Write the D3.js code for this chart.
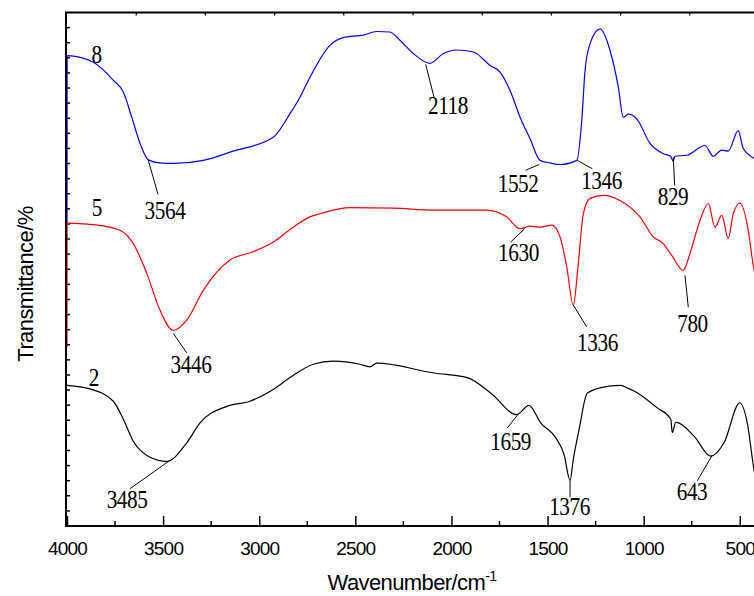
<!DOCTYPE html>
<html>
<head>
<meta charset="utf-8">
<script src="https://cdn.jsdelivr.net/npm/d3@7"></script>
<style>
  body { margin: 0; background: #fff; }
</style>
</head>
<body>
<div id="chart"></div>
<script>
// spectra: [wavenumber cm-1, transmittance (relative, 0-100)]
const sample8 = [
  [4000, 59.0], [3999, 91.6], [3863, 90.3], [3759, 86.8], [3707, 84.5], [3663, 79.6],
  [3620, 74.5], [3577, 71.3], [3516, 70.7], [3447, 70.6], [3291, 71.2], [3135, 73.0],
  [2927, 75.7], [2840, 80.3], [2788, 83.5], [2736, 87.4], [2632, 93.6], [2563, 95.1],
  [2459, 95.6], [2389, 96.3], [2320, 96.2], [2268, 94.6], [2198, 92.0], [2112, 90.1],
  [2042, 92.0], [1973, 92.7], [1886, 92.3], [1799, 89.7], [1747, 88.4], [1695, 84.8],
  [1643, 79.6], [1591, 75.4], [1539, 71.2], [1487, 70.7], [1435, 70.4], [1348, 71.2],
  [1322, 79.0], [1305, 88.7], [1279, 93.9], [1227, 96.8], [1175, 92.6], [1132, 85.5],
  [1106, 79.6], [1080, 80.2], [1036, 79.3], [967, 74.5], [898, 72.5], [860, 72.0],
  [846, 71.0], [838, 72.0], [776, 72.2], [681, 74.1], [638, 72.0], [594, 73.2],
  [560, 73.0], [508, 77.0], [482, 73.5], [430, 71.7], [400, 71.0]
];
const sample5 = [
  [4000, 34.8], [3999, 59.0], [3863, 58.7], [3724, 57.6], [3655, 55.0], [3585, 49.2],
  [3516, 42.0], [3447, 38.1], [3377, 40.1], [3291, 45.9], [3152, 51.8], [3031, 53.4],
  [2927, 55.3], [2823, 58.2], [2736, 60.2], [2684, 60.8], [2528, 62.0], [2302, 61.9],
  [2094, 61.5], [1817, 61.5], [1713, 60.2], [1643, 57.9], [1591, 58.4], [1539, 58.2],
  [1478, 58.6], [1435, 56.3], [1400, 50.4], [1366, 43.0], [1340, 51.1], [1314, 60.8],
  [1279, 63.8], [1210, 64.4], [1123, 63.4], [1019, 60.2], [950, 56.3], [898, 55.0],
  [854, 52.7], [794, 49.8], [759, 53.1], [707, 59.5], [664, 62.8], [629, 58.2],
  [594, 60.5], [560, 56.0], [534, 60.8], [499, 62.9], [456, 57.6], [430, 50.8], [400, 46.0]
];
const sample2 = [
  [4000, 27.4], [3880, 26.7], [3759, 24.3], [3707, 20.8], [3655, 16.5], [3568, 13.4],
  [3481, 12.6], [3377, 16.2], [3308, 20.1], [3169, 23.3], [3048, 24.3], [2927, 26.6],
  [2840, 28.9], [2719, 31.5], [2615, 32.1], [2476, 31.5], [2424, 31.0], [2389, 31.7],
  [2091, 29.8], [1917, 28.9], [1796, 25.9], [1660, 21.7], [1597, 23.5], [1536, 20.1],
  [1458, 17.2], [1414, 13.9], [1383, 8.9], [1366, 13.0], [1336, 18.8], [1293, 25.9],
  [1189, 27.2], [1119, 27.4], [1080, 26.8], [1050, 26.3], [929, 23.0], [859, 20.8],
  [851, 18.2], [833, 20.2], [738, 17.5], [651, 13.6], [582, 16.2], [500, 24.0],
  [461, 20.1], [426, 11.0], [400, 7.0]
];

// marked bands: [label, wavenumber, transmittance at the mark]
const peaks8 = [["3564", 3577, 71.2], ["2118", 2134, 89.9], ["1552", 1544, 70.4], ["1346", 1345, 71.2], ["829", 846, 71.8]];
const peaks5 = [["3446", 3447, 37.5], ["1630", 1619, 57.9], ["1336", 1366, 43.0], ["780", 785, 48.8]];
const peaks2 = [["3485", 3464, 12.8], ["1659", 1654, 21.7], ["1376", 1383, 8.9], ["643", 643, 13.8]];

const seriesNames = ["8", "5", "2"];
const xTicks = [4000, 3500, 3000, 2500, 2000, 1500, 1000, 500];

function drawChart() {
  const width = 754, height = 596;
  const mLeft = 67, mRight = 759, mTop = 12.5, mBottom = 526;

  const x = d3.scaleLinear().domain([4000, 400]).range([mLeft, mRight]);
  const y = d3.scaleLinear().domain([0, 100]).range([mBottom, mTop]);

  const svg = d3.select("#chart").append("svg")
    .attr("width", width)
    .attr("height", height)
    .style("display", "block")
    .style("background", "#fff");

  // bottom axis, ticks pointing inward
  const xAxis = d3.axisBottom(x).tickValues(xTicks).tickSize(-10).tickPadding(16).tickFormat(d3.format("d"));
  const gx = svg.append("g").attr("transform", `translate(0,${mBottom})`).call(xAxis);
  gx.select(".domain").remove();
  gx.selectAll(".tick line").attr("stroke", "#000").attr("stroke-width", 1.5);
  gx.selectAll("text")
    .attr("font-family", "Liberation Sans, Arial, sans-serif")
    .attr("font-size", 19)
    .attr("letter-spacing", -0.8)
    .attr("fill", "#000");
  // minor ticks
  svg.append("g").selectAll("line")
    .data(d3.range(3750, 400, -500))
    .join("line")
    .attr("x1", d => x(d)).attr("x2", d => x(d))
    .attr("y1", mBottom).attr("y2", mBottom - 5)
    .attr("stroke", "#000").attr("stroke-width", 1.5);

  // top axis ticks
  svg.append("g").selectAll("line")
    .data(d3.range(3640, 400, -360))
    .join("line")
    .attr("x1", d => x(d)).attr("x2", d => x(d))
    .attr("y1", mTop).attr("y2", mTop + 3)
    .attr("stroke", "#000").attr("stroke-width", 1.2);

  // left axis ticks
  svg.append("g").selectAll("line")
    .data(d3.range(1, 34).map(i => i * 100 / 34))
    .join("line")
    .attr("x1", mLeft).attr("x2", mLeft + 3)
    .attr("y1", d => y(d)).attr("y2", d => y(d))
    .attr("stroke", "#000").attr("stroke-width", 1.5);

  // curves
  const line = d3.line()
    .x(d => x(d[0]))
    .y(d => y(d[1]))
    .curve(d3.curveMonotoneX);

  const series = [
    { data: sample8, color: "#0000ff", peaks: peaks8 },
    { data: sample5, color: "#ff0000", peaks: peaks5 },
    { data: sample2, color: "#000000", peaks: peaks2 }
  ];

  svg.append("g").selectAll("path")
    .data(series)
    .join("path")
    .attr("d", d => line(d.data))
    .attr("fill", "none")
    .attr("stroke", d => d.color)
    .attr("stroke-width", 1.2);

  // frame
  svg.append("line").attr("x1", mLeft).attr("x2", mRight).attr("y1", mTop).attr("y2", mTop)
    .attr("stroke", "#000").attr("stroke-width", 2);
  svg.append("line").attr("x1", mLeft).attr("x2", mRight).attr("y1", mBottom).attr("y2", mBottom)
    .attr("stroke", "#000").attr("stroke-width", 2);
  svg.append("line").attr("x1", mLeft - 1).attr("x2", mLeft - 1).attr("y1", mTop - 1).attr("y2", mBottom + 1)
    .attr("stroke", "#000").attr("stroke-width", 2);
  svg.append("line").attr("x1", mRight).attr("x2", mRight).attr("y1", mTop).attr("y2", mBottom)
    .attr("stroke", "#000").attr("stroke-width", 2);

  // where the leader and label sit, relative to the marked point (px)
  const leader = {
    "3564": [[9.7, 34], [16.7, 59]],
    "2118": [[8.3, 32.7], [22.3, 50]],
    "1552": [[-13.3, 5.7], [-21, 27.7]],
    "1346": [[15, 8.3], [24.2, 29]],
    "829": [[1.4, 28.3], [-0.3, 47.3]],
    "3446": [[13.4, 19.4], [17.7, 39.7]],
    "1630": [[-14, 13.4], [-6.2, 32.7]],
    "1336": [[13.4, 21.7], [24.2, 46]],
    "780": [[3.3, 31.7], [7.5, 57]],
    "3485": [[-40, 28.4], [-43, 47.7]],
    "1659": [[-10.7, 13.4], [-7.3, 35.7]],
    "1376": [[0, 17], [-0.5, 35]],
    "643": [[-15, 25.7], [-20.3, 44.7]]
  };
  const nameOffset = [[29.7, 7], [30, -6.7], [27, -3.3]];

  const serif = "Liberation Serif, Times New Roman, serif";
  const notes = svg.append("g");
  series.forEach((s, i) => {
    s.peaks.forEach(([label, w, t]) => {
      const px = x(w), py = y(t);
      const [end, pos] = leader[label];
      notes.append("line")
        .attr("x1", px).attr("y1", py)
        .attr("x2", px + end[0]).attr("y2", py + end[1])
        .attr("stroke", "#000").attr("stroke-width", 1);
      notes.append("text")
        .attr("transform", `translate(${px + pos[0]},${py + pos[1]}) scale(0.85,1)`)
        .attr("text-anchor", "middle")
        .attr("font-family", serif)
        .attr("font-size", 25)
        .attr("letter-spacing", -0.5)
        .text(label);
    });
    const start = s.data.find(d => d[0] < 4000);
    notes.append("text")
      .attr("transform", `translate(${x(4000) + nameOffset[i][0]},${y(start[1]) + nameOffset[i][1]}) scale(0.85,1)`)
      .attr("text-anchor", "middle")
      .attr("font-family", serif)
      .attr("font-size", 25)
      .text(seriesNames[i]);
  });

  // axis titles
  const xt = svg.append("text")
    .attr("x", 412).attr("y", 590)
    .attr("text-anchor", "middle")
    .attr("font-family", "Liberation Sans, Arial, sans-serif")
    .attr("font-size", 22)
    .attr("letter-spacing", -0.6);
  xt.append("tspan").text("Wavenumber/cm");
  xt.append("tspan").attr("dy", -9).attr("font-size", 14).text("-1");

  svg.append("text")
    .attr("transform", "translate(33,284) rotate(-90)")
    .attr("text-anchor", "middle")
    .attr("font-family", "Liberation Sans, Arial, sans-serif")
    .attr("font-size", 22)
    .attr("letter-spacing", -0.6)
    .text("Transmittance/%");
}

drawChart();
</script>
</body>
</html>
